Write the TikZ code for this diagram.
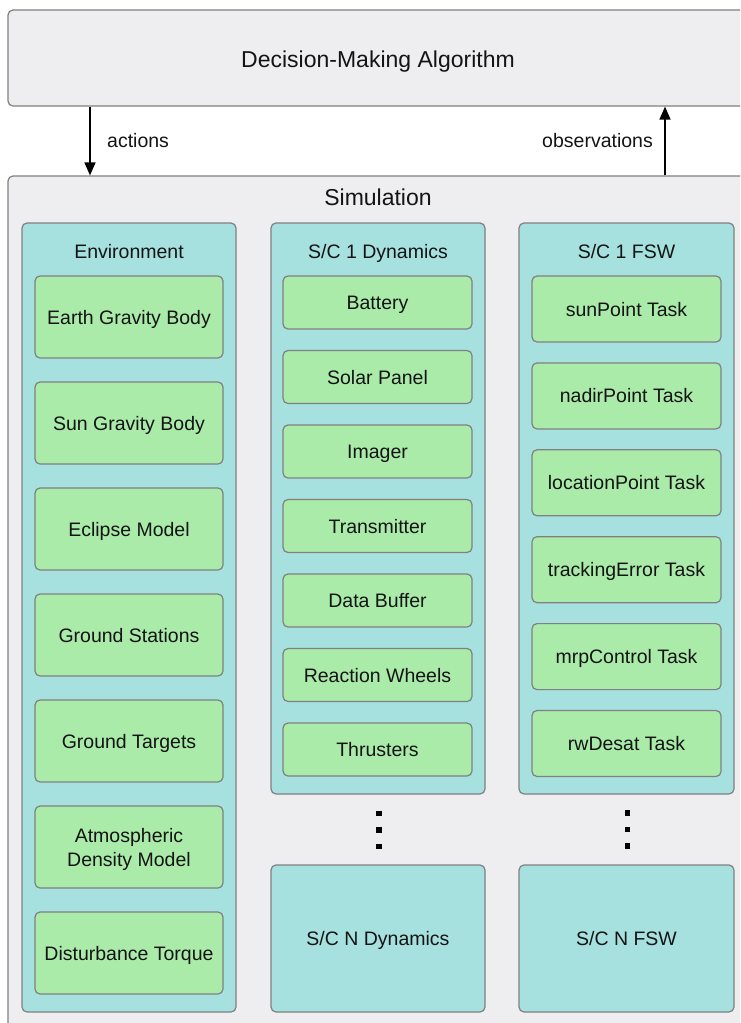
\documentclass[tikz,border=0pt]{standalone}
\usepackage{fontspec}
\setmainfont{Liberation Sans}
\usetikzlibrary{arrows.meta}
\definecolor{greybg}{RGB}{238,238,240}
\definecolor{bord}{RGB}{128,128,128}
\definecolor{tealbg}{RGB}{166,225,224}
\definecolor{mintbg}{RGB}{170,235,170}
\definecolor{txt}{RGB}{20,20,20}
\begin{document}
\begin{tikzpicture}[x=1pt,y=-1pt,
  outerbox/.style={draw=bord, fill=greybg, line width=1.2pt, rounded corners=5pt, inner sep=0pt},
  groupbox/.style={draw=bord, fill=tealbg, line width=1.2pt, rounded corners=5pt, inner sep=0pt, text=txt, font=\fontsize{19.5}{24}\selectfont},
  itembox/.style={draw=bord, fill=mintbg, line width=1.2pt, rounded corners=5pt, inner sep=0pt, text=txt, align=center, font=\fontsize{19.5}{24}\selectfont},
  oneline/.style={text height=14pt, text depth=0pt},
  envitem/.style={itembox, minimum width=188pt, minimum height=82pt},
  dynitem/.style={itembox, oneline, minimum width=189pt, minimum height=53pt},
  fswitem/.style={itembox, oneline, minimum width=189pt, minimum height=66pt},
  titletext/.style={text=txt, inner sep=0pt, oneline, font=\fontsize{19.5}{24}\selectfont},
  bigtext/.style={text=txt, inner sep=0pt, text height=16.5pt, text depth=0pt, font=\fontsize{23}{27}\selectfont},
  labeltext/.style={text=txt, inner sep=0pt, font=\fontsize{19.5}{24}\selectfont},
  arr/.style={draw=black, line width=1.3pt, -{Triangle[length=13pt,width=11pt]}},
  dotsq/.style={fill=black, inner sep=0pt, minimum size=5.5pt}
]
\clip (0,0) rectangle (740,1023);
\fill[white] (0,0) rectangle (740,1023);

% top box
\node[outerbox, minimum width=740pt, minimum height=96pt] (dm) at (378,58) {};
\node[bigtext] (dmt) at (378,59) {Decision-Making Algorithm};

% simulation
\node[outerbox, minimum width=740pt, minimum height=924pt] (sim) at (378,638) {};
\node[bigtext] (simt) at (378,197) {Simulation};

% arrows
\coordinate (ax) at (90,0);
\coordinate (ox) at (665,0);
\draw[arr] (dm.south -| ax) -- (sim.north -| ax);
\draw[arr] (sim.north -| ox) -- (dm.south -| ox);
\node[labeltext, anchor=base west] (actl) at (107,147) {actions};
\node[labeltext, anchor=base east] (obsl) at (653,147) {observations};

% groups
\node[groupbox, minimum width=214pt, minimum height=789pt] (env) at (129,617.5) {};
\node[groupbox, minimum width=214pt, minimum height=571pt] (dyn) at (378,508.5) {};
\node[groupbox, minimum width=215pt, minimum height=571pt] (fsw) at (626.5,508.5) {};
\node[groupbox, oneline, minimum width=214pt, minimum height=147pt] (dynN) at (378,938.5) {S/C N Dynamics};
\node[groupbox, oneline, minimum width=215pt, minimum height=147pt] (fswN) at (626.5,938.5) {S/C N FSW};

\node[titletext] (envt) at (129,251) {Environment};
\node[titletext] (dynt) at (378,251) {S/C 1 Dynamics};
\node[titletext] (fswt) at (626.5,251) {S/C 1 FSW};

% environment items
\node[envitem, oneline] (e1) at (129,317) {Earth Gravity Body};
\node[envitem, oneline] (e2) at (129,423) {Sun Gravity Body};
\node[envitem, oneline] (e3) at (129,529) {Eclipse Model};
\node[envitem, oneline] (e4) at (129,635) {Ground Stations};
\node[envitem, oneline] (e5) at (129,741) {Ground Targets};
\node[envitem] (e6) at (129,847) {};
\node[labeltext, align=center] (e6t) at (129,849) {Atmospheric\\Density Model};
\node[envitem, oneline] (e7) at (129,953) {Disturbance Torque};

% dynamics items
\node[dynitem] (d1) at (377.5,302.5) {Battery};
\node[dynitem] (d2) at (377.5,377) {Solar Panel};
\node[dynitem] (d3) at (377.5,451.5) {Imager};
\node[dynitem] (d4) at (377.5,526) {Transmitter};
\node[dynitem] (d5) at (377.5,600.5) {Data Buffer};
\node[dynitem] (d6) at (377.5,675) {Reaction Wheels};
\node[dynitem] (d7) at (377.5,749.5) {Thrusters};

% fsw items
\node[fswitem] (f1) at (626.5,309) {sunPoint Task};
\node[fswitem] (f2) at (626.5,395.9) {nadirPoint Task};
\node[fswitem] (f3) at (626.5,482.8) {locationPoint Task};
\node[fswitem] (f4) at (626.5,569.7) {trackingError Task};
\node[fswitem] (f5) at (626.5,656.6) {mrpControl Task};
\node[fswitem] (f6) at (626.5,743.5) {rwDesat Task};

% dots
\node[dotsq] (p1) at (379,813.5) {};
\node[dotsq] (p2) at (379,830) {};
\node[dotsq] (p3) at (379,846.5) {};
\node[dotsq] (q1) at (627.5,813) {};
\node[dotsq] (q2) at (627.5,829.5) {};
\node[dotsq] (q3) at (627.5,846) {};
\end{tikzpicture}
\end{document}
